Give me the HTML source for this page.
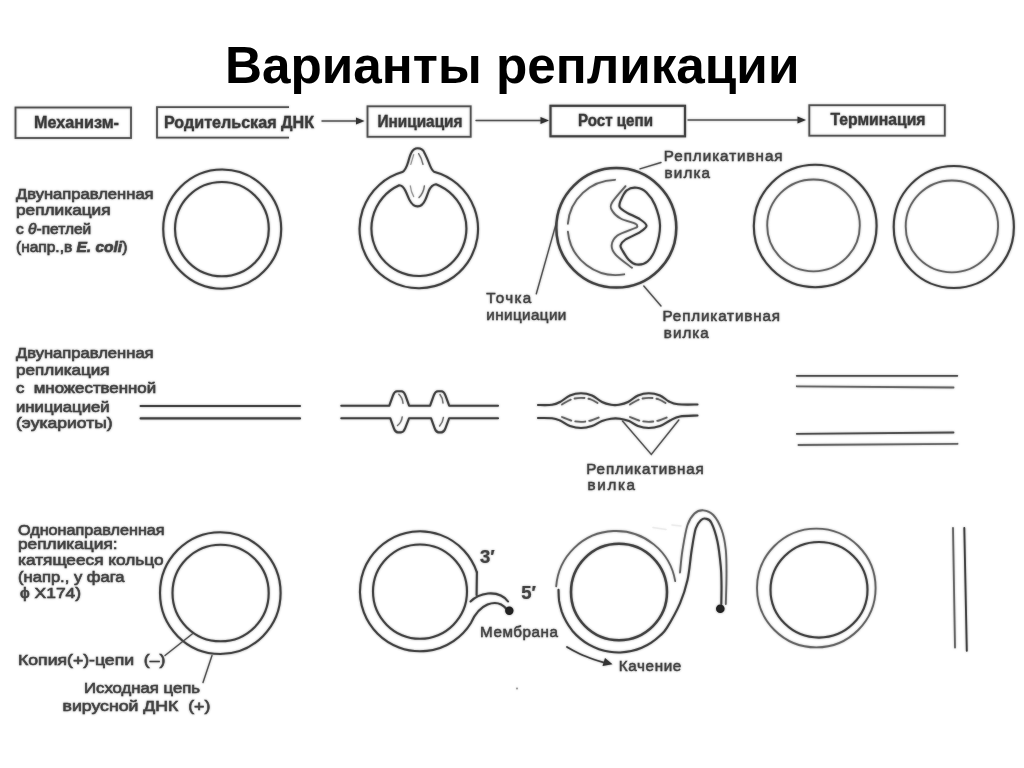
<!DOCTYPE html>
<html lang="ru">
<head>
<meta charset="utf-8">
<title>Варианты репликации</title>
<style>
html,body{margin:0;padding:0;background:#fff;}
body{width:1024px;height:768px;overflow:hidden;position:relative;font-family:"Liberation Sans",sans-serif;}
svg{position:absolute;left:0;top:0;display:block;}
.hd{font-family:"Liberation Sans",sans-serif;font-weight:bold;font-size:15.6px;fill:#3c3c3c;stroke:#3c3c3c;stroke-width:0.3px;}
.lb{font-family:"Liberation Sans",sans-serif;font-size:15.5px;fill:#444;stroke:#444;stroke-width:0.6px;}
#row3 .lb{font-size:15.1px;stroke-width:0.55px;}
.lb.ls,#row3 .lb.ls{font-size:15.2px;stroke-width:0.45px;}
.it{font-style:italic;}
.d{fill:none;stroke:#444;stroke-width:2.1;stroke-linecap:round;stroke-linejoin:round;}
.m{fill:none;stroke:#505050;stroke-width:1.8;stroke-linecap:round;stroke-linejoin:round;}
.l{fill:none;stroke:#686868;stroke-width:1.85;stroke-linecap:round;stroke-linejoin:round;}
.f{fill:none;stroke:#9a9a9a;stroke-width:1.2;stroke-linecap:round;}
.p{fill:none;stroke:#555;stroke-width:1.4;stroke-linecap:round;}
.bx{fill:none;stroke:#555;stroke-width:1.8;}
.ah{fill:#333;stroke:none;}
.dot{fill:#222;stroke:none;}
</style>
</head>
<body>
<svg width="1024" height="768" viewBox="0 0 1024 768">
<defs>
<filter id="soft" x="0" y="0" width="1024" height="768" filterUnits="userSpaceOnUse"><feGaussianBlur stdDeviation="0.9"/></filter>
</defs>
<rect x="0" y="0" width="1024" height="768" fill="#ffffff"/>
<use href="#art" filter="url(#soft)" opacity="0.5"/>
<g id="art" opacity="0.999">

<!-- ============ header boxes ============ -->
<g id="header">
<rect class="bx" x="15.5" y="107.5" width="115.5" height="30.5"/>
<text class="hd" x="34" y="128" textLength="85" lengthAdjust="spacingAndGlyphs">Механизм-</text>

<path class="bx" d="M289 107.2 L157 107.2 L157 137.6 L289 137.6"/>
<text class="hd" x="164" y="127.5" textLength="150" lengthAdjust="spacingAndGlyphs">Родительская ДНК</text>
<path class="p" d="M322 121 L358 121"/>
<path class="ah" d="M364.5 121 L356 117.6 L356 124.4 Z"/>

<rect class="bx" x="367.5" y="106.3" width="103.2" height="30.5"/>
<text class="hd" x="377.5" y="126.8" textLength="85" lengthAdjust="spacingAndGlyphs">Инициация</text>
<path class="p" d="M476 120.5 L542 120.5"/>
<path class="ah" d="M549 120.5 L540.5 117.1 L540.5 123.9 Z"/>

<rect class="bx" style="stroke-width:2.2;stroke:#444" x="550.5" y="105.8" width="134.5" height="30.5"/>
<text class="hd" x="578" y="126.3" textLength="75" lengthAdjust="spacingAndGlyphs">Рост цепи</text>
<path class="p" d="M688 120 L799 120"/>
<path class="ah" d="M806 120 L797.5 116.6 L797.5 123.4 Z"/>

<rect class="bx" x="809.3" y="105.2" width="135.5" height="30.5"/>
<text class="hd" x="830.5" y="125.2" textLength="95" lengthAdjust="spacingAndGlyphs">Терминация</text>
</g>

<!-- ============ row 1 : theta replication ============ -->
<g id="row1">
<text class="lb" x="16" y="199" textLength="137.6" lengthAdjust="spacingAndGlyphs">Двунаправленная</text>
<text class="lb" x="16" y="215" textLength="94.6" lengthAdjust="spacingAndGlyphs">репликация</text>
<text class="lb" x="16" y="233.5">с <tspan class="it">θ</tspan>-петлей</text>
<text class="lb" x="16" y="251.5">(напр.,в <tspan class="it" style="font-weight:bold">E. coli</tspan>)</text>

<ellipse class="d" cx="222.2" cy="229.1" rx="59" ry="59.6"/>
<ellipse class="d" cx="221.9" cy="229.1" rx="46.9" ry="47.1"/>

<path class="d" d="M434 171.75 A59.25 59.25 0 1 1 402.3 172.1 C405.5 170.5 407 166 408.3 161.5 C409.5 157.5 410 155 411.3 152.7 C413 149.5 415 148.3 417.6 148.3 C420.5 148.3 423 149.5 424.4 152.7 C426 156 427.5 159 428.8 162.5 C430 166 431.5 170 434 171.75 Z"/>
<path class="d" d="M436 184.2 A47.5 47.5 0 1 1 399.2 185.3 C402 185.3 403.8 187.5 405.4 190.8 C407 194 408 197 409.3 199.6 C411.5 204 414 206.4 417.6 206.4 C421 206.4 423.5 204 425.4 199.6 C426.8 196.5 427.5 194 428.8 190.8 C430.5 187 432.5 184.6 436 184.2 Z"/>
<path class="f" d="M413.7 154.6 L410.8 164.4 M410.3 185.9 Q411 192 413.7 196.6"/>
<path class="f" style="stroke:#777;stroke-width:1.4" d="M418.6 153.7 Q421.5 158 423 164.4 M424.4 185.9 Q423.5 193 419 197.6"/>

<text class="lb ls" x="486.3" y="303" textLength="45" lengthAdjust="spacing">Точка</text>
<text class="lb ls" x="486.3" y="320" textLength="80" lengthAdjust="spacing">инициации</text>
<path class="p" d="M556.3 223 L536.3 293.8"/>

<ellipse class="d" style="stroke-width:2.5" cx="616.3" cy="227.8" rx="60" ry="59.8"/>
<path class="l" d="M615.0 179.8 A48.3 47.6 0 1 0 624.2 274.3" stroke-dasharray="70.5 8 200"/>
<path class="d" d="M627.0 190.2 C629.7 188.0 633.5 187.4 636.8 187.8 C640.0 188.2 643.5 189.6 646.5 192.5 C649.5 195.4 652.8 199.6 655.0 205.0 C657.2 210.4 659.8 217.9 660.0 225.0 C660.2 232.1 658.1 241.4 656.0 247.5 C653.9 253.6 650.7 258.7 647.5 261.5 C644.3 264.3 639.9 264.8 636.8 264.5 C633.7 264.2 631.1 262.1 628.7 259.7 C626.3 257.3 623.6 252.4 622.2 250.0 C620.9 247.6 620.1 246.9 620.6 245.2 C621.1 243.4 622.3 241.7 625.5 239.5 C628.7 237.3 636.5 234.5 640.0 232.2 C643.5 229.9 646.5 228.0 646.5 225.8 C646.5 223.7 643.2 221.5 640.0 219.3 C636.8 217.1 630.5 214.8 627.1 212.8 C623.7 210.8 620.9 209.2 619.8 207.2 C618.7 205.2 619.4 203.5 620.6 200.7 C621.8 197.9 624.3 192.3 627.0 190.2 Z"/>
<path class="l" d="M625.5 186.2 C623.2 189.0 613.9 199.0 611.7 203.2 C609.5 207.4 611.0 208.6 612.5 211.2 C614.0 213.8 616.8 216.4 620.6 218.5 C624.4 220.6 632.5 222.4 635.2 223.6 C637.9 224.8 637.0 225.1 637.0 225.8 C637.0 226.5 638.5 226.4 635.2 228.0 C631.9 229.6 621.3 232.6 617.4 235.5 C613.5 238.4 612.0 242.0 611.7 245.2 C611.4 248.4 612.4 251.1 615.8 254.9 C619.2 258.7 629.3 265.7 632.0 267.8"/>
<text class="lb ls" x="663.8" y="161.3" textLength="118.8" lengthAdjust="spacing">Репликативная</text>
<text class="lb ls" x="664.5" y="178" textLength="45.5" lengthAdjust="spacing">вилка</text>
<path class="p" d="M661 162.5 L640 168.8"/>
<text class="lb ls" x="662.5" y="321" textLength="117.5" lengthAdjust="spacing">Репликативная</text>
<text class="lb ls" x="663.8" y="338" textLength="45" lengthAdjust="spacing">вилка</text>
<path class="p" d="M643.8 286 L661 306"/>

<ellipse class="d" cx="815.2" cy="226" rx="61.4" ry="61.2"/>
<ellipse class="l" cx="813.5" cy="225.4" rx="46.3" ry="45.9"/>
<ellipse class="d" cx="953.8" cy="227" rx="60.1" ry="61"/>
<ellipse class="l" cx="951.9" cy="226.4" rx="46.2" ry="45.9"/>
</g>

<!-- ============ row 2 : eukaryotes ============ -->
<g id="row2">
<text class="lb" x="16" y="358" textLength="137.6" lengthAdjust="spacingAndGlyphs">Двунаправленная</text>
<text class="lb" x="16" y="375.3" textLength="93.6" lengthAdjust="spacingAndGlyphs">репликация</text>
<text class="lb" x="16" y="393.4" textLength="140.1" lengthAdjust="spacingAndGlyphs">с&#160; множественной</text>
<text class="lb" x="16" y="411.9" textLength="93.6" lengthAdjust="spacingAndGlyphs">инициацией</text>
<text class="lb" x="16" y="428.4" textLength="96.6" lengthAdjust="spacingAndGlyphs">(эукариоты)</text>

<path class="d" d="M140.6 406 L300 406 M140.6 418.4 L300 418.4"/>

<path class="d" d="M341.3 405.7 L389.3 405.7 L393.0 395.3 Q394.5 391.2 397.1 391.2 L401.3 391.2 Q403.9 391.2 405.4 395.3 L409.1 405.7 L430.1 405.7 L433.8 395.3 Q435.3 391.2 437.9 391.2 L441.3 391.2 Q443.9 391.2 445.4 395.3 L449.2 405.7 L498 405.7"/>
<path class="d" d="M341.3 418.2 L390.2 418.2 L393.9 428.4 Q395.3 432.4 397.9 432.4 L400.9 432.4 Q403.5 432.4 405.1 428.4 L409.1 418.2 L431.0 418.2 L434.7 428.4 Q436.1 432.4 438.7 432.4 L441.3 432.4 Q443.9 432.4 445.4 428.4 L449.2 418.2 L498 418.2"/>
<path class="f" style="stroke:#777;stroke-width:1.5" d="M398.8 394.2 Q402.5 397.5 403 403.2 M402.2 417 Q401.5 422.5 397.5 425.5 M440 394.5 Q442.8 398 443 403 M443.4 417.5 Q442.8 422.5 439.6 426"/>

<path class="d" d="M538.0 405.0 C540.3 405.0 548.3 405.3 552.0 404.8 C555.7 404.3 557.0 403.6 560.0 402.0 C563.0 400.4 566.5 397.0 570.0 395.5 C573.5 394.0 577.3 393.2 581.0 393.2 C584.7 393.2 588.5 394.0 592.0 395.5 C595.5 397.0 598.8 400.4 602.0 402.0 C605.2 403.6 608.2 404.3 611.0 404.8 C613.8 405.3 616.2 405.3 619.0 404.8 C621.8 404.3 624.8 403.6 628.0 402.0 C631.2 400.4 634.5 397.0 638.0 395.5 C641.5 394.0 645.1 393.2 648.8 393.2 C652.5 393.2 656.6 394.1 660.0 395.5 C663.4 396.9 666.0 400.0 669.0 401.5 C672.0 403.0 673.2 403.8 678.0 404.3 C682.8 404.8 694.2 404.5 697.5 404.5"/>
<path class="d" d="M538.0 418.0 C540.3 418.0 548.3 417.8 552.0 418.2 C555.7 418.6 557.0 419.2 560.0 420.5 C563.0 421.8 566.5 424.8 570.0 426.0 C573.5 427.2 577.3 428.0 581.0 428.0 C584.7 428.0 588.5 427.2 592.0 426.0 C595.5 424.8 598.8 422.2 602.0 421.0 C605.2 419.8 608.0 419.1 611.0 418.7 C614.0 418.3 617.0 418.3 620.0 418.7 C623.0 419.1 626.0 419.8 629.0 421.0 C632.0 422.2 634.7 424.8 638.0 426.0 C641.3 427.2 645.1 428.0 648.8 428.0 C652.5 428.0 656.5 427.2 660.0 426.0 C663.5 424.8 666.7 422.1 670.0 420.5 C673.3 418.9 675.4 417.3 680.0 416.5 C684.6 415.7 694.6 415.7 697.5 415.5"/>
<path class="l" stroke-dasharray="10 4" d="M562.0 404.5 C563.5 403.7 567.8 400.6 571.0 399.5 C574.2 398.4 577.7 397.8 581.0 397.8 C584.3 397.8 587.8 398.4 591.0 399.5 C594.2 400.6 598.5 403.7 600.0 404.5"/>
<path class="l" stroke-dasharray="10 4" d="M562.0 417.0 C563.5 417.6 567.8 419.7 571.0 420.5 C574.2 421.3 577.7 421.8 581.0 421.8 C584.3 421.8 587.8 421.3 591.0 420.5 C594.2 419.7 598.5 417.6 600.0 417.0"/>
<path class="l" stroke-dasharray="10 4" d="M630.0 404.5 C631.5 403.7 635.9 400.6 639.0 399.5 C642.1 398.4 645.5 397.8 648.8 397.8 C652.1 397.8 655.8 398.4 659.0 399.5 C662.2 400.6 666.5 403.7 668.0 404.5"/>
<path class="l" stroke-dasharray="10 4" d="M630.0 417.0 C631.5 417.6 635.9 419.7 639.0 420.5 C642.1 421.3 645.5 421.8 648.8 421.8 C652.1 421.8 655.8 421.3 659.0 420.5 C662.2 419.7 666.5 417.6 668.0 417.0"/>
<path class="p" d="M622.5 421 L651.3 454.5 L678.8 420"/>
<text class="lb ls" x="586.3" y="473.8" textLength="117.5" lengthAdjust="spacing">Репликативная</text>
<text class="lb ls" x="587.5" y="490" textLength="47.5" lengthAdjust="spacing">вилка</text>

<path class="m" d="M796.8 375.8 L957.3 375.8"/>
<path class="l" d="M796.8 386.3 L953.5 387.5"/>
<path class="m" d="M796.8 433.8 L953.5 432.5"/>
<path class="l" d="M798.5 445 L957.5 443.8"/>
</g>

<!-- ============ row 3 : rolling circle ============ -->
<g id="row3">
<text class="lb" x="18" y="534.5" textLength="146.6" lengthAdjust="spacingAndGlyphs">Однонаправленная</text>
<text class="lb" x="18" y="549.2" textLength="99.6" lengthAdjust="spacingAndGlyphs">репликация:</text>
<text class="lb" x="18" y="565.3" textLength="145.6" lengthAdjust="spacingAndGlyphs">катящееся кольцо</text>
<text class="lb" x="18" y="581.8" textLength="106.6" lengthAdjust="spacingAndGlyphs">(напр., у фага</text>
<text class="lb" x="20" y="598" textLength="61.1" lengthAdjust="spacingAndGlyphs">ϕ X174)</text>
<text class="lb" x="18" y="665" textLength="147.4" lengthAdjust="spacingAndGlyphs">Копия(+)-цепи&#160; (–)</text>
<text class="lb" x="84" y="693" textLength="116.0" lengthAdjust="spacingAndGlyphs">Исходная цепь</text>
<text class="lb" x="62.5" y="711" textLength="147.8" lengthAdjust="spacingAndGlyphs">вирусной ДНК&#160; (+)</text>
<path class="p" d="M192.5 633.8 L165 655.5"/>
<path class="p" d="M212 655.5 L203 682.5"/>

<ellipse class="d" cx="220.3" cy="593.1" rx="60.3" ry="60.9"/>
<ellipse class="d" cx="220.6" cy="593" rx="48.1" ry="48.3"/>

<ellipse class="d" cx="420" cy="591.6" rx="47" ry="47.1"/>
<path class="d" d="M476.9 572.3 A60 60 0 1 0 471.1 622.7 C474 616 478 608.5 487.5 604.5 C495 601.5 502 603.5 506.5 609"/>
<path class="d" d="M476.9 572.3 L476.6 595 M470.5 601.5 C474 598 480 594.5 488 593.5 C497 592.8 504 596 508 601.5"/>
<circle class="dot" cx="509.3" cy="610.8" r="4.2"/>
<text class="lb" style="font-size:18.5px;font-weight:bold;stroke-width:0.2px" x="480" y="563">3′</text>
<text class="lb" style="font-size:18.5px;font-weight:bold;stroke-width:0.2px" x="521.3" y="598.8">5′</text>
<text class="lb ls" x="480" y="637" textLength="78" lengthAdjust="spacing">Мембрана</text>

<ellipse class="d" style="stroke-width:2.5" cx="619" cy="592" rx="48" ry="48.2"/>
<path class="l" d="M556.2 586.3 A60.0 60.0 0 0 1 675.2 581.1"/>
<path class="d" d="M558.5 589.9 C558.6 591.7 558.6 597.3 559.1 600.9 C559.7 604.5 560.6 608.1 561.7 611.6 C562.9 615.0 564.4 618.4 566.2 621.6 C567.9 624.8 570.0 627.8 572.3 630.7 C574.7 633.5 577.3 636.1 580.0 638.4 C582.8 640.8 585.9 642.9 589.0 644.7 C592.2 646.5 595.5 648.0 599.0 649.2 C602.4 650.4 606.0 651.3 609.6 651.8 C613.1 652.4 616.8 652.6 620.4 652.5 C624.1 652.3 627.7 651.9 631.3 651.1 C634.8 650.3 638.3 649.2 641.7 647.8 C645.0 646.4 648.3 644.7 651.3 642.7 C654.3 640.7 657.2 638.3 659.9 635.8 C662.5 633.3 663.7 633.0 667.0 627.6 C670.4 622.1 676.6 611.2 680.0 603.3 C683.4 595.4 685.5 588.9 687.5 580.0 C689.5 571.1 690.3 558.6 691.7 550.0 C693.1 541.4 694.2 533.3 695.8 528.3 C697.4 523.3 699.5 521.6 701.2 520.0 C702.9 518.4 704.1 518.3 705.8 518.7 C707.5 519.1 709.2 518.7 711.2 522.5 C713.2 526.3 715.9 534.3 717.5 541.7 C719.1 549.1 720.1 559.5 720.8 566.7 C721.5 573.9 721.4 578.8 721.5 585.0 C721.6 591.2 721.3 600.8 721.3 604.0"/>
<path class="l" d="M680.0 572.5 C680.4 568.8 681.2 557.9 682.5 550.0 C683.8 542.1 685.5 531.1 687.5 525.0 C689.5 518.9 691.9 516.0 694.5 513.5 C697.1 511.1 700.2 510.1 703.3 510.3 C706.4 510.6 710.2 511.7 713.3 515.0 C716.4 518.3 719.6 524.2 721.7 530.0 C723.8 535.8 725.0 542.5 725.8 550.0 C726.6 557.5 726.5 566.0 726.5 575.0 C726.5 584.0 725.9 599.2 725.8 604.0"/>
<circle class="dot" cx="720.3" cy="608.8" r="4.3"/>
<path class="d" style="stroke-width:1.8" d="M567.0 647.0 C569.2 648.2 575.5 651.9 580.0 654.0 C584.5 656.1 589.7 658.0 594.0 659.5 C598.3 661.0 604.0 662.4 606.0 663.0"/>
<path class="ah" d="M612.5 664.3 L602.5 666 L605 658 Z"/>
<text class="lb ls" x="618.8" y="671.3" textLength="62.5" lengthAdjust="spacing">Качение</text>

<ellipse class="l" cx="816.3" cy="588" rx="59.3" ry="59.4"/>
<ellipse class="d" cx="819" cy="589.8" rx="48.5" ry="47.8"/>
<path class="l" d="M953 528 L955 647.5"/>
<path class="d" style="stroke-width:1.9" d="M964.3 528 L966.8 650.8"/>
<circle cx="517" cy="688.5" r="1" fill="#999"/>
<path class="f" style="stroke:#ececec;stroke-width:1.5" d="M653 527.5 L666 529.5 M672 525 L681 526"/>
</g>

</g>
</svg>
<h1 style="position:absolute;left:225px;top:33px;margin:0;font-size:51.25px;line-height:66px;font-weight:bold;color:#000;white-space:nowrap;opacity:0.999;">Варианты репликации</h1>
</body>
</html>
